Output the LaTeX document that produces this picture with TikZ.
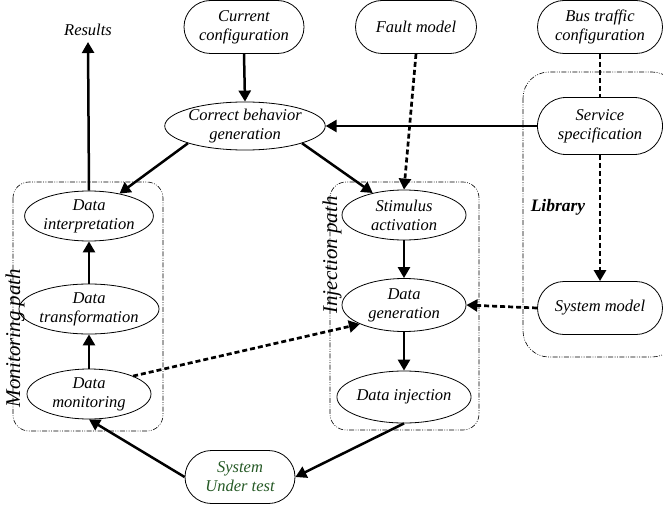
\documentclass[tikz,border=0pt]{standalone}
\usepackage{fontspec}
\setmainfont{Liberation Serif}
\usetikzlibrary{arrows.meta,shapes.geometric,shapes.misc}
\definecolor{sutgreen}{RGB}{38,90,38}
\tikzset{
  lbl/.style={font=\fontsize{16.5}{19}\selectfont\itshape, align=center},
  ell/.style={lbl, ellipse, draw, line width=0.8pt, inner sep=0pt, minimum width=124pt, minimum height=50pt},
  rbox/.style={lbl, rounded rectangle, draw, line width=0.8pt, inner sep=0pt, minimum width=122pt, minimum height=53pt},
  group/.style={draw, line width=0.6pt, dash pattern=on 5pt off 1.5pt on 0.8pt off 1.5pt on 0.8pt off 1.5pt, rounded corners=16pt},
  arr/.style={line width=2.5pt, -{Triangle[length=11pt,width=12pt]}},
  darr/.style={line width=2.7pt, dash pattern=on 5pt off 3pt, -{Triangle[length=11pt,width=12pt]}},
  dline/.style={line width=2.7pt, dash pattern=on 5pt off 3pt},
  side/.style={font=\fontsize{21}{24}\selectfont\itshape, rotate=90}
}
\begin{document}
\begin{tikzpicture}[x=1pt,y=-1pt]
\useasboundingbox (0,0) rectangle (663,508);
% group boxes
\draw[group] (13,182) rectangle (163,431);
\draw[group] (330,182) rectangle (479,430);
\draw[group, rounded corners=26pt] (523,72) rectangle (678,357);
% nodes
\node[lbl, inner sep=6pt] (res) at (88,30) {Results};
\node[rbox, minimum width=120pt] (cur) at (244,27) {Current\\configuration};
\node[rbox, minimum width=121pt] (fault) at (416,27) {Fault model};
\node[rbox, minimum width=125pt] (bus) at (600,27) {Bus traffic\\configuration};
\node[ell, minimum width=157pt, minimum height=46pt] (cbg) at (245,126) {Correct behavior\\generation};
\node[rbox, minimum width=125pt, minimum height=57pt] (serv) at (600,126) {Service\\specification};
\node[ell] (interp) at (89,216) {Data\\interpretation};
\node[ell] (trans) at (89,309) {Data\\transformation};
\node[ell] (mon) at (89,394) {Data\\monitoring};
\node[ell] (stim) at (404,215) {Stimulus\\activation};
\node[ell, minimum height=53pt] (dgen) at (404,305) {Data\\generation};
\node[ell, minimum height=52pt] (dinj) at (404,397) {Data injection};
\node[rbox, minimum width=125pt] (sysm) at (600,308) {System model};
\node[rbox, minimum width=110pt, text=sutgreen] (sut) at (240,477) {System\\Under test};
\node[font=\fontsize{17.5}{20}\selectfont\bfseries\itshape] (lib) at (558,207) {Library};
\node[side] (mp) at (15,338) {Monitoring path};
\node[side] (ip) at (332,255) {Injection path};
% connectors
\draw[arr] (interp.north) -- (res.south);
\draw[arr] (cur.south) -- (cbg.north);
\draw[arr] (serv.west) -- (cbg.east);
\draw[arr] (cbg.south west) -- (interp);
\draw[arr] (cbg.south east) -- (stim);
\draw[darr] (fault.south) -- (stim.north);
\draw[dline] (bus.south) -- (serv.north);
\draw[darr] (serv.south) -- (sysm.north);
\draw[arr] (trans.north) -- (interp.south);
\draw[arr] (mon.north) -- (trans.south);
\draw[arr] (stim.south) -- (dgen.north);
\draw[arr] (dgen.south) -- (dinj.north);
\draw[darr] (sysm.west) -- (dgen.east);
\draw[darr] (mon.north east) -- (dgen.south west);
\draw[arr] (dinj.south) -- (sut.east);
\draw[arr] (sut.west) -- (mon.south);
\end{tikzpicture}
\end{document}
